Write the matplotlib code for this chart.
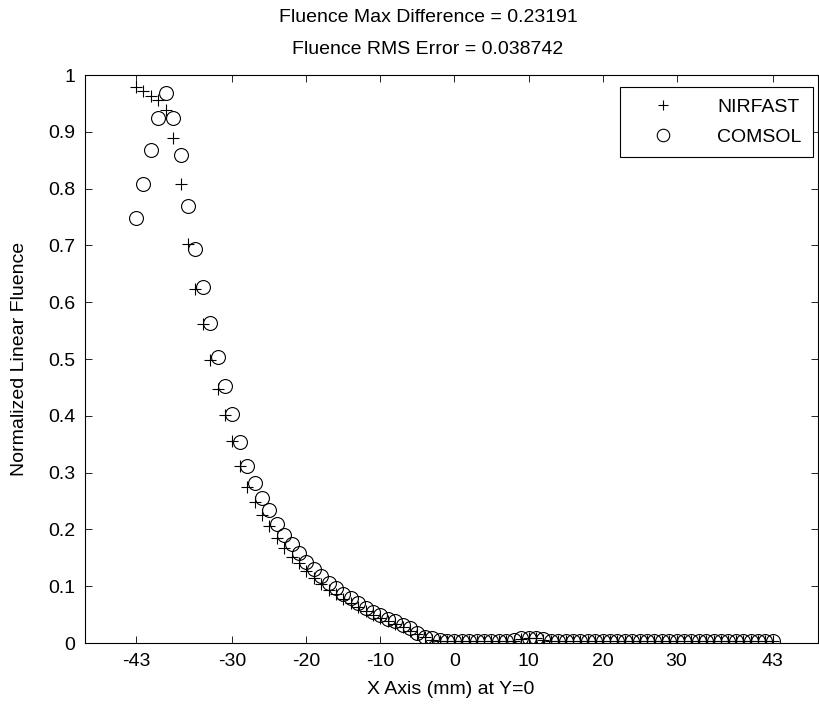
import numpy as np
import matplotlib
matplotlib.use("Agg")
import matplotlib.pyplot as plt
from matplotlib import rcParams

rcParams['font.family'] = ['Liberation Sans', 'DejaVu Sans']
rcParams['font.size'] = 14

# sample positions along x (mm) at y=0
x_mm = list(range(-43, 44))

nirfast = [0.979, 0.972, 0.963, 0.956, 0.938, 0.889, 0.808, 0.702, 0.624, 0.561,
           0.498, 0.448, 0.401, 0.356, 0.312, 0.275, 0.249, 0.225, 0.206, 0.184,
           0.167, 0.152, 0.140, 0.126, 0.114, 0.104, 0.094, 0.086, 0.078, 0.071,
           0.063, 0.056, 0.050, 0.044, 0.038, 0.033, 0.028, 0.022, 0.016, 0.010,
           0.006, 0.004,
           0.003, 0.003, 0.003, 0.003, 0.003, 0.003, 0.003, 0.003, 0.003, 0.004,
           0.007, 0.008, 0.008, 0.006, 0.003, 0.003, 0.003, 0.003, 0.003, 0.003,
           0.003, 0.003, 0.003, 0.003, 0.003, 0.003, 0.003, 0.003, 0.003, 0.003,
           0.003, 0.003, 0.003, 0.003, 0.003, 0.003, 0.003, 0.003, 0.003, 0.003,
           0.003, 0.003, 0.003, 0.003, 0.003]

comsol = [0.748, 0.808, 0.868, 0.925, 0.968, 0.925, 0.859, 0.769, 0.694, 0.627,
          0.563, 0.503, 0.452, 0.403, 0.353, 0.312, 0.281, 0.256, 0.234, 0.210,
          0.190, 0.175, 0.158, 0.143, 0.130, 0.118, 0.106, 0.096, 0.086, 0.079,
          0.070, 0.062, 0.055, 0.049, 0.043, 0.038, 0.032, 0.026, 0.018, 0.011,
          0.008, 0.006,
          0.004, 0.004, 0.004, 0.004, 0.004, 0.004, 0.004, 0.004, 0.004, 0.005,
          0.008, 0.009, 0.009, 0.007, 0.004, 0.004, 0.004, 0.004, 0.004, 0.004,
          0.004, 0.004, 0.004, 0.004, 0.004, 0.004, 0.004, 0.004, 0.004, 0.004,
          0.004, 0.004, 0.004, 0.004, 0.004, 0.004, 0.004, 0.004, 0.004, 0.004,
          0.004, 0.004, 0.004, 0.004, 0.004]

xticks = [-43, -30, -20, -10, 0, 10, 20, 30, 43]
yticks = [0, 0.1, 0.2, 0.3, 0.4, 0.5, 0.6, 0.7, 0.8, 0.9, 1]
ytick_labels = ['0', '0.1', '0.2', '0.3', '0.4', '0.5', '0.6', '0.7', '0.8', '0.9', '1']

W, H = 819, 707
fig = plt.figure(figsize=(W / 100, H / 100), dpi=100)
ax = fig.add_axes([85 / W, (H - 643) / H, (818 - 85) / W, (643 - 75) / H])

ax.plot(x_mm, nirfast, linestyle='none', marker='+', markersize=8.5,
        markeredgewidth=0.8, color='k', label='NIRFAST')
ax.plot(x_mm, comsol, linestyle='none', marker='o', markersize=10,
        markeredgewidth=0.8, markerfacecolor='none', markeredgecolor='k',
        label='COMSOL')

ax.set_xlim(-49.9, 49.1)
ax.set_ylim(0, 1)
ax.set_xticks(xticks)
ax.set_xticklabels([str(t) for t in xticks])
ax.set_yticks(yticks)
ax.set_yticklabels(ytick_labels)
ax.tick_params(direction='in', length=5.3, width=0.6, top=True, right=True,
               labelsize=14, pad=7)
for s in ax.spines.values():
    s.set_linewidth(0.8)

fig.text(20 / W, 1 - 359 / H, 'Normalized Linear Fluence', rotation=90,
         ha='center', va='center', fontsize=14)
fig.text(451 / W, 1 - 690 / H, 'X Axis (mm) at Y=0', ha='center', va='center',
         fontsize=14)
fig.text(428 / W, 1 - 17 / H, 'Fluence Max Difference = 0.23191',
         ha='center', va='center', fontsize=14)
fig.text(428 / W, 1 - 50 / H, 'Fluence RMS Error = 0.038742',
         ha='center', va='center', fontsize=14)

leg = ax.legend(loc='upper right', bbox_to_anchor=(813 / W, 1 - 87 / H),
                bbox_transform=fig.transFigure, borderaxespad=0,
                fancybox=False, framealpha=1, edgecolor='k', markerscale=0.9,
                handlelength=3.2, handletextpad=1.2, borderpad=0.6,
                labelspacing=0.6, fontsize=14)
leg.get_frame().set_linewidth(0.8)

fig.savefig('out.png', dpi=100)
